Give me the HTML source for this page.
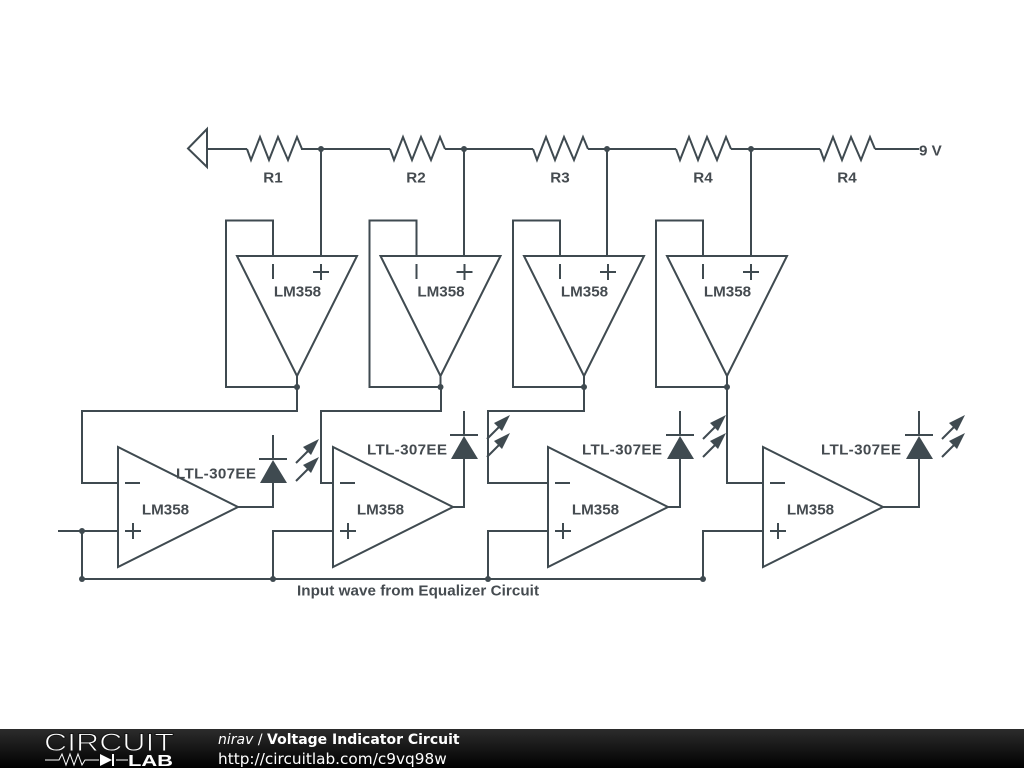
<!DOCTYPE html>
<html><head><meta charset="utf-8"><style>
html,body{margin:0;padding:0;background:#fff;width:1024px;height:768px;overflow:hidden}
svg{display:block}
.w{fill:none;stroke:#3f4a50;stroke-width:2}
.t{font-family:"Liberation Sans",sans-serif;font-weight:bold;font-size:15.200px;fill:#454b50}
.m{text-anchor:middle}
</style></head><body>
<svg width="1024" height="768" viewBox="0 0 1024 768" xmlns="http://www.w3.org/2000/svg">
<defs>
<linearGradient id="g" x1="0" y1="0" x2="0" y2="1"><stop offset="0" stop-color="#2c2c2c"/><stop offset="1" stop-color="#000"/></linearGradient>
<path id="r" class="w" d="M0 149 L4 160 L13 137 L22 160 L31 137 L41 160 L50 137 L55 149"/>
<g id="top">
<path class="w" d="M237 256H357L297 376Z"/>
<path class="w" d="M273 256V220.500H226V387H297V376"/>
<path class="w" d="M273 264V279M313 272H329M321 264V280"/>
<circle cx="297" cy="387" r="3" fill="#3f4a50"/>
<text class="t m" x="297.500" y="296.500">LM358</text>
</g>
<g id="bot">
<path class="w" d="M118 447V567L238 507Z"/>
<path class="w" d="M125 483H140M125 531H141M133 523V539"/>
<text class="t m" x="165.500" y="514.500">LM358</text>
</g>
<g id="led">
<path class="w" d="M0 -24V-48M-14 -24H14"/>
<path d="M0 -23L-13 0H14Z" fill="#3f4a50"/>
<path class="w" d="M23 -20L38 -35M23 -2L38 -17" stroke-width="1.800"/>
<path d="M46 -44L30 -36L34 -32L38 -28ZM46 -26L30 -18L34 -14L38 -10Z" fill="#3f4a50"/>
</g>
</defs>

<path class="w" d="M207 129L188 148.500L207 167Z"/>
<path class="w" d="M207 149H247M301 149H390M445 149H533M588 149H676M731 149H820M875 149H919"/>
<use href="#r" x="247"/><use href="#r" x="390"/><use href="#r" x="533"/><use href="#r" x="676"/><use href="#r" x="820"/>
<g fill="#3f4a50"><circle cx="321" cy="149" r="3"/><circle cx="464" cy="149" r="3"/><circle cx="607" cy="149" r="3"/><circle cx="751" cy="149" r="3"/></g>
<path class="w" d="M321 149V256M464 149V256M607 149V256M751 149V256"/>
<text class="t m" x="273" y="182.500">R1</text>
<text class="t m" x="416" y="182.500">R2</text>
<text class="t m" x="560" y="182.500">R3</text>
<text class="t m" x="703" y="182.500">R4</text>
<text class="t m" x="847" y="182.500">R4</text>
<text class="t" x="919" y="155.500">9 V</text>

<use href="#top"/><use href="#top" x="143.500"/><use href="#top" x="287"/><use href="#top" x="430"/>

<use href="#bot"/><use href="#bot" x="215"/><use href="#bot" x="430"/><use href="#bot" x="645"/>

<path class="w" d="M297 387V411H82V483H118"/>
<path class="w" d="M441 387V411H321V483H333"/>
<path class="w" d="M584 387V411H488V483H548"/>
<path class="w" d="M727 387V483H763"/>

<path class="w" d="M58 531H118M82 531V579H703V531H763M273 579V531H333M488 579V531H548"/>
<g fill="#3f4a50"><circle cx="82" cy="531" r="3"/><circle cx="82" cy="579" r="3"/><circle cx="273" cy="579" r="3"/><circle cx="488" cy="579" r="3"/><circle cx="703" cy="579" r="3"/></g>

<path class="w" d="M238 507H273V483M453 507H464V459M668 507H680V459M883 507H919V459"/>
<use href="#led" x="273" y="483"/>
<use href="#led" x="464" y="459"/>
<use href="#led" x="680" y="459"/>
<use href="#led" x="919" y="459"/>

<text class="t" x="176" y="478.500" textLength="80">LTL-307EE</text>
<text class="t" x="367" y="454.500" textLength="80">LTL-307EE</text>
<text class="t" x="582" y="454.500" textLength="80">LTL-307EE</text>
<text class="t" x="821" y="454.500" textLength="80">LTL-307EE</text>
<text class="t" x="297" y="595.500" textLength="242">Input wave from Equalizer Circuit</text>

<rect x="0" y="729" width="1024" height="39" fill="url(#g)"/>
<text x="44" y="751" font-family="'Liberation Sans',sans-serif" font-size="25" fill="#fff" stroke="#161616" stroke-width=".9" textLength="130" lengthAdjust="spacingAndGlyphs">CIRCUIT</text>
<path d="M45 760H59L62 754L66 765L70 754L74 765L78 754L82 765L85 760H99M116 760H128" fill="none" stroke="#fff" stroke-width="1"/>
<path d="M100 754V766L112 760Z" fill="#fff"/><path d="M113 754V766" stroke="#fff" stroke-width="2"/>
<text x="128" y="766" font-family="'Liberation Sans',sans-serif" font-weight="bold" font-size="16" fill="#fff" textLength="45" lengthAdjust="spacingAndGlyphs">LAB</text>
<text x="218" y="744" font-family="'DejaVu Sans',sans-serif" font-size="14" fill="#fff"><tspan font-style="italic">nirav</tspan> / <tspan font-weight="bold">Voltage Indicator Circuit</tspan></text>
<text x="218" y="764" font-family="'DejaVu Sans',sans-serif" font-size="15.300" fill="#fff">http://circuitlab.com/c9vq98w</text>
</svg>
</body></html>
